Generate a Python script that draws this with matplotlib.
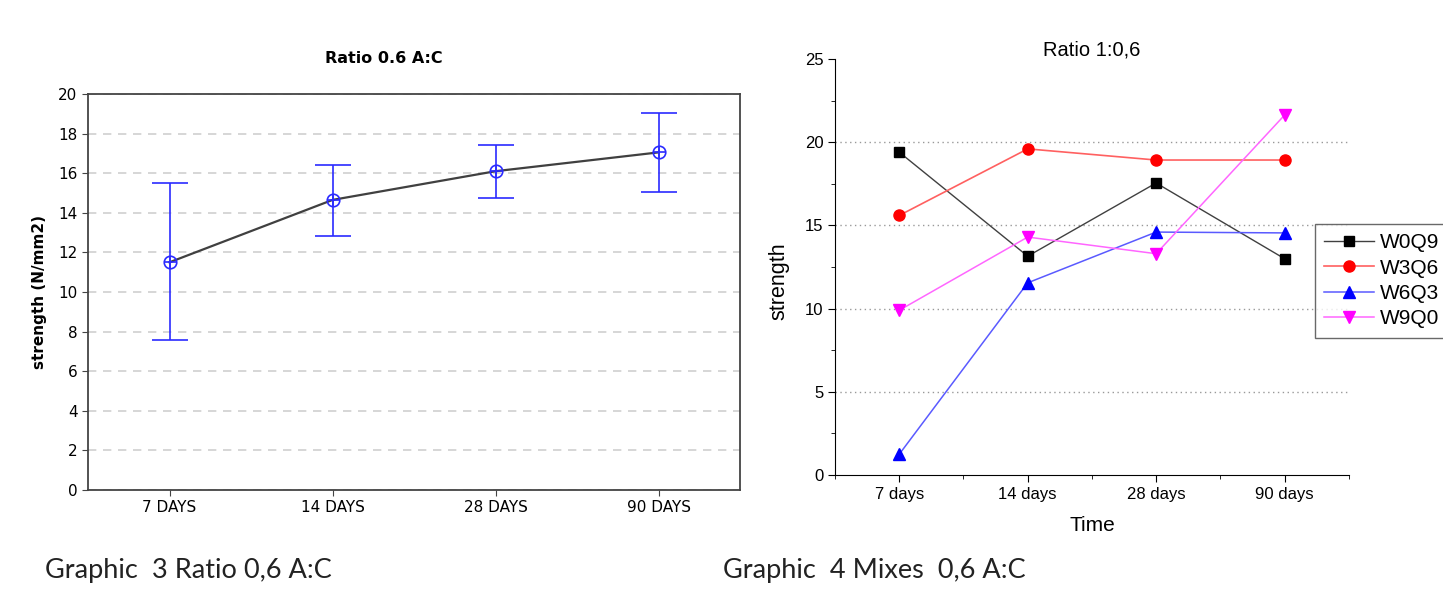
import matplotlib
matplotlib.use("Agg")
import matplotlib.pyplot as plt
import numpy as np

# left chart: mean strength with error bars
days_left = ["7 DAYS", "14 DAYS", "28 DAYS", "90 DAYS"]
mean_strength = [11.5, 14.65, 16.1, 17.05]
err_low = [3.9, 1.8, 1.35, 2.0]
err_high = [4.0, 1.75, 1.3, 2.0]

# right chart: mixes
days_right = ["7 days", "14 days", "28 days", "90 days"]
w0q9 = [19.4, 13.15, 17.55, 13.0]
w3q6 = [15.6, 19.6, 18.93, 18.93]
w6q3 = [1.25, 11.55, 14.6, 14.55]
w9q0 = [9.9, 14.3, 13.3, 21.63]
mix_names = ["W0Q9", "W3Q6", "W6Q3", "W9Q0"]

fig = plt.figure(figsize=(14.43, 5.92), dpi=100)

# ---- left chart
ax1 = fig.add_axes([0.061, 0.1723, 0.452, 0.669])
x = np.arange(len(days_left))
ax1.plot(x, mean_strength, color="#404040", lw=1.6, zorder=2)
ax1.errorbar(x, mean_strength, yerr=[err_low, err_high], fmt="none",
             ecolor="#2b2bff", elinewidth=1.2, capsize=13, capthick=1.2, zorder=3)
ax1.plot(x, mean_strength, "o", mfc="none", mec="#2b2bff", ms=9, mew=1.2, zorder=4)
ax1.plot(x, mean_strength, "+", color="#2b2bff", ms=9, mew=1.2, zorder=4)
ax1.set_xlim(-0.5, 3.5)
ax1.set_ylim(0, 20)
ax1.set_yticks(np.arange(0, 21, 2))
ax1.set_xticks(x)
ax1.set_xticklabels(days_left)
ax1.yaxis.grid(True, ls=(0, (5, 4)), color="#cfcfcf", lw=1.2)
ax1.set_axisbelow(True)
for s in ax1.spines.values():
    s.set_color("#444444")
    s.set_linewidth(1.3)
ax1.tick_params(labelsize=11, length=4, color="#444444")
ax1.text(0.454, 1.09, "Ratio 0.6 A:C", transform=ax1.transAxes, ha="center",
         va="center", fontsize=11.5, fontweight="bold")
ax1.set_ylabel("strength (N/mm2)", fontsize=11, fontweight="bold", labelpad=8)

# ---- right chart
rf = "Liberation Sans"
ax2 = fig.add_axes([0.5787, 0.1976, 0.356, 0.7027])
xr = np.arange(len(days_right))
ax2.plot(xr, w0q9, "-s", color="#404040", mfc="black", mec="black", ms=7, lw=1)
ax2.plot(xr, w3q6, "-o", color="#ff6060", mfc="red", mec="red", ms=8, lw=1.2)
ax2.plot(xr, w6q3, "-^", color="#5a5aff", mfc="blue", mec="blue", ms=8, lw=1.1)
ax2.plot(xr, w9q0, "-v", color="#ff66ff", mfc="magenta", mec="magenta", ms=8, lw=1.1)
ax2.set_xlim(-0.5, 3.5)
ax2.set_ylim(0, 25)
ax2.set_yticks(np.arange(0, 26, 5))
ax2.set_yticks(np.arange(0, 25, 2.5), minor=True)
ax2.set_xticks(xr)
ax2.set_xticks(np.arange(-0.5, 3.6, 1), minor=True)
ax2.set_xticklabels(days_right)
for gy in [5, 10, 15, 20]:
    ax2.axhline(gy, ls=(0, (1, 2.5)), color="#999999", lw=1, zorder=0)
ax2.spines["top"].set_visible(False)
ax2.spines["right"].set_visible(False)
ax2.tick_params(labelsize=12, length=5)
ax2.tick_params(which="minor", length=3)
for lab in ax2.get_xticklabels() + ax2.get_yticklabels():
    lab.set_family(rf)
ax2.set_title("Ratio 1:0,6", fontsize=14.5, pad=0, family=rf)
ax2.set_ylabel("strength", fontsize=15.5, family=rf)
ax2.yaxis.set_label_coords(-0.088, 0.466)
ax2.set_xlabel("Time", fontsize=15, family=rf, labelpad=10)
leg = ax2.legend(mix_names, loc="upper left", bbox_to_anchor=(0.911, 0.6216),
                 bbox_transform=fig.transFigure, fancybox=False,
                 edgecolor="#444444", handlelength=2.4, borderpad=0.45,
                 labelspacing=0.3, handletextpad=0.3, borderaxespad=0,
                 prop={"family": rf, "size": 15})
leg.get_frame().set_linewidth(1.0)

# captions
fig.text(0.031, 0.024, "Graphic  3 Ratio 0,6 A:C", fontsize=19.5, family="Lato",
         va="baseline", color="#222222")
fig.text(0.501, 0.024, "Graphic  4 Mixes  0,6 A:C", fontsize=19.5, family="Lato",
         va="baseline", color="#222222")

fig.savefig("out.png", dpi=100)
